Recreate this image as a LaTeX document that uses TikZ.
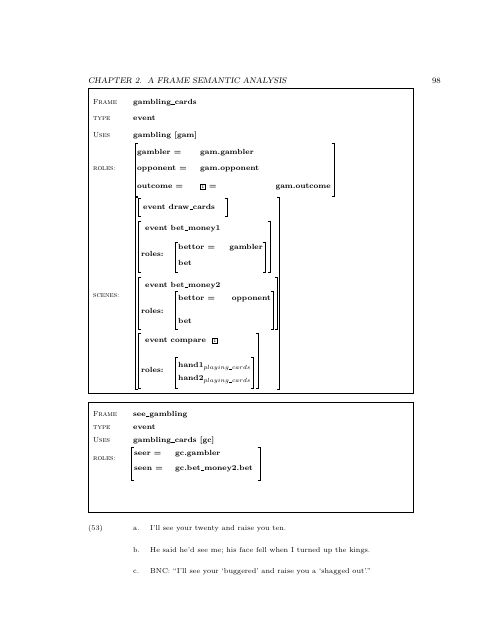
\documentclass[tikz,border=0pt]{standalone}
\newcommand{\valfont}{\fontsize{7.4}{9}\selectfont\bfseries}
\newcommand{\labfont}{\fontsize{7.4}{9}\selectfont\scshape}
\newcommand{\exfont}{\fontsize{7.2}{9}\selectfont}
\newcommand{\hdfont}{\fontsize{8.2}{10}\selectfont}
\newcommand{\us}{\kern0.04em\rule[-0.25pt]{0.42em}{0.45pt}\kern0.04em}
\newcommand{\subtxt}[1]{\raisebox{-1.6pt}{\fontsize{6}{6}\selectfont\mdseries$#1$}}
\newcommand{\LBr}[3]{\draw[brk] ({#1+2.5},#2) -- (#1,#2) -- (#1,#3) -- ({#1+2.5},#3);}
\newcommand{\RBr}[3]{\draw[brk] ({#1-2.5},#2) -- (#1,#2) -- (#1,#3) -- ({#1-2.5},#3);}
\tikzset{
  lab/.style={anchor=base west, inner sep=0pt, font=\labfont},
  val/.style={anchor=base west, inner sep=0pt, font=\valfont},
  ex/.style={anchor=base west, inner sep=0pt, font=\exfont},
  brk/.style={line width=0.7pt},
  frm/.style={line width=0.9pt},
  tag/.style={draw, line width=0.5pt, inner sep=0.8pt, font=\fontsize{5.2}{5}\selectfont},
}
\begin{document}
\begin{tikzpicture}[x=1pt,y=-1pt]
\useasboundingbox (0,0) rectangle (495,640);
% header
\node[anchor=base west, inner sep=0pt, font=\hdfont\slshape] (hd) at (88,83) {CHAPTER 2.\ \ A FRAME SEMANTIC ANALYSIS};
\node[anchor=base east, inner sep=0pt, font=\hdfont] (pg) at (441,83) {98};

% ---------- box 1 ----------
\draw[frm] (88,88) rectangle (413,393);
\node[lab] (f1) at (93,104.5) {Frame};
\node[val] (f1v) at (133,104.5) {gambling\us cards};
\node[lab] (t1) at (93,120.5) {type};
\node[val] (t1v) at (133,120.5) {event};
\node[lab] (u1) at (93,137.5) {Uses};
\node[val] (u1v) at (133,137.5) {gambling [gam]};
\node[lab] (r1) at (93,170.5) {roles:};
\LBr{135}{143}{196}
\RBr{334}{143}{196}
\node[val] (a1) at (137,154.5) {gambler =};
\node[val] (a1v) at (200,154.5) {gam.gambler};
\node[val] (a2) at (137,170.5) {opponent =};
\node[val] (a2v) at (200,170.5) {gam.opponent};
\node[val] (a3) at (137,188.5) {outcome =};
\node[tag, anchor=base west] (tg1) at (200,188.5) {1};
\node[val] (a3e) at (209,188.5) {=};
\node[val, anchor=base east] (a3v) at (331,188.5) {gam.outcome};

\node[lab] (s1) at (93,297.5) {scenes:};
\LBr{135}{197}{389}
\RBr{279}{197}{389}
% draw_cards
\LBr{138}{198}{216}
\RBr{227}{198}{216}
\node[val] (sc1) at (143,209.5) {event draw\us cards};
% bet_money1
\LBr{138}{221}{272}
\RBr{270}{221}{272}
\node[val] (sc2) at (145,230.5) {event bet\us money1};
\node[val] (sc2r) at (141,256.5) {roles:};
\LBr{175}{242}{272}
\RBr{265}{242}{272}
\node[val] (sc2a) at (178,249.5) {bettor =};
\node[val, anchor=base east] (sc2av) at (263,249.5) {gambler};
\node[val] (sc2b) at (178,265.5) {bet};
% bet_money2
\LBr{138}{277}{329}
\RBr{277}{277}{329}
\node[val] (sc3) at (145,287.5) {event bet\us money2};
\node[val] (sc3r) at (141,313.5) {roles:};
\LBr{175}{291}{329}
\RBr{273}{291}{329}
\node[val] (sc3a) at (178,300.5) {bettor =};
\node[val, anchor=base east] (sc3av) at (271,300.5) {opponent};
\node[val] (sc3b) at (178,323) {bet};
% compare
\LBr{138}{333}{388}
\RBr{258}{333}{388}
\node[val] (sc4) at (145,342.5) {event compare};
\node[tag, anchor=base west] (tg2) at (212,342.5) {1};
\node[val] (sc4r) at (141,372.5) {roles:};
\LBr{175}{357}{388}
\RBr{253}{357}{388}
\node[val] (sc4a) at (178,367.5) {hand1\subtxt{playing\us cards}};
\node[val] (sc4b) at (178,380.5) {hand2\subtxt{playing\us cards}};

% ---------- box 2 ----------
\draw[frm] (88,402) rectangle (413,512);
\node[lab] (f2) at (93,416.5) {Frame};
\node[val] (f2v) at (133,416.5) {see\us gambling};
\node[lab] (t2) at (93,429.5) {type};
\node[val] (t2v) at (133,429.5) {event};
\node[lab] (u2) at (93,442.5) {Uses};
\node[val] (u2v) at (133,442.5) {gambling\us cards [gc]};
\node[lab] (r2) at (93,460.5) {roles:};
\LBr{131}{447}{480}
\RBr{260}{447}{480}
\node[val] (b1) at (134,455.5) {seer =};
\node[val] (b1v) at (175,455.5) {gc.gambler};
\node[val] (b2) at (134,470.5) {seen =};
\node[val] (b2v) at (175,470.5) {gc.bet\us money2.bet};

% ---------- examples ----------
\node[ex] (n53) at (88,530) {(53)};
\node[ex] (ea) at (133,530) {a.};
\node[ex] (eat) at (150,530) {I'll see your twenty and raise you ten.};
\node[ex] (eb) at (133,552) {b.};
\node[ex] (ebt) at (150,552) {He said he'd see me; his face fell when I turned up the kings.};
\node[ex] (ec) at (133,573) {c.};
\node[ex] (ect) at (150,573) {BNC: “I'll see your ‘buggered’ and raise you a ‘shagged out’.”};
\end{tikzpicture}
\end{document}
